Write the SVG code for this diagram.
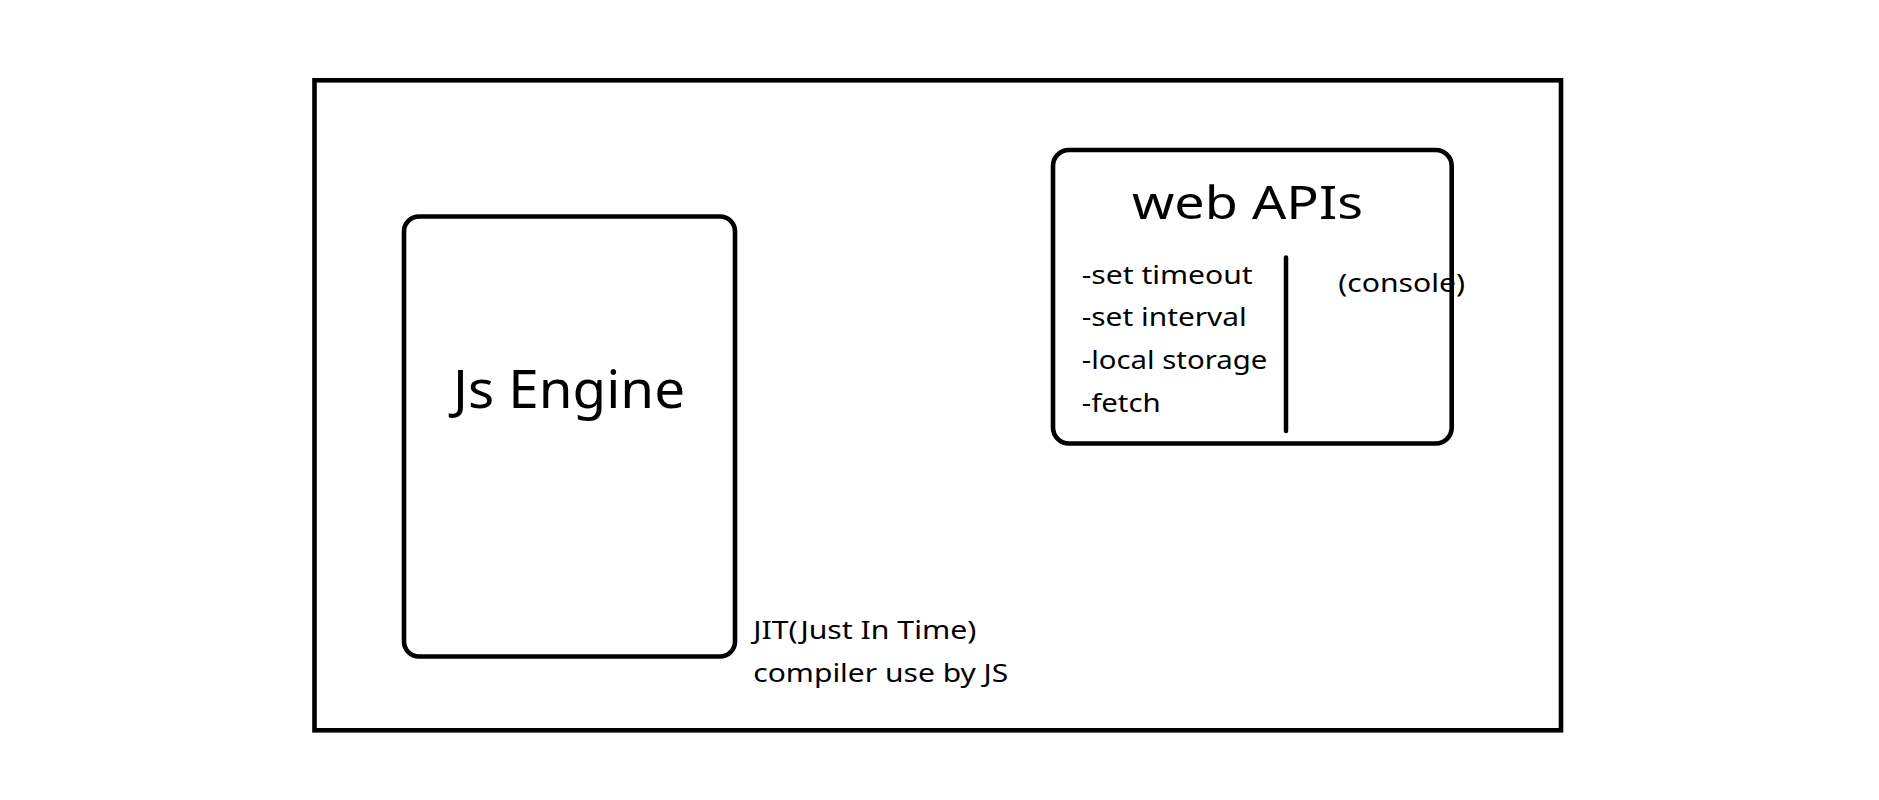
<svg xmlns="http://www.w3.org/2000/svg" width="1879" height="800" viewBox="0 0 1879 800">
<style>
.box{fill:none;stroke:#000;stroke-width:4.6}
.t{font-family:"Noto Sans","Open Sans","DejaVu Sans",sans-serif;fill:#000}
.s{font-size:26px}
</style>
<rect width="1879" height="800" fill="#fff"/>
<g id="outer"><rect class="box" x="314.5" y="80.3" width="1246.5" height="650"/></g>
<g id="js-engine">
<rect class="box" x="404" y="216.5" width="331" height="440" rx="15" ry="15"/>
<text class="t" x="453" y="408.3" font-size="53" textLength="232" lengthAdjust="spacingAndGlyphs">Js Engine</text>
</g>
<g id="web-apis">
<rect class="box" x="1053" y="150" width="398.7" height="293.5" rx="16" ry="16"/>
<text class="t" x="1132" y="219.3" font-size="46" textLength="231" lengthAdjust="spacingAndGlyphs">web APIs</text>
<line x1="1286" y1="257.5" x2="1286" y2="431" stroke="#000" stroke-width="4.5" stroke-linecap="round"/>
<text class="t s" x="1081.7" y="283.5" textLength="171" lengthAdjust="spacingAndGlyphs">-set timeout</text>
<text class="t s" x="1081.7" y="326.3" textLength="165" lengthAdjust="spacingAndGlyphs">-set interval</text>
<text class="t s" x="1081.7" y="369" textLength="185.6" lengthAdjust="spacingAndGlyphs">-local storage</text>
<text class="t s" x="1081.7" y="411.7" textLength="79" lengthAdjust="spacingAndGlyphs">-fetch</text>
<text class="t s" x="1338.3" y="292" textLength="126.7" lengthAdjust="spacingAndGlyphs">(console)</text>
</g>
<g id="jit-note">
<text class="t s" x="753.3" y="639.3" textLength="223" lengthAdjust="spacingAndGlyphs">JIT(Just In Time)</text>
<text class="t s" x="753.3" y="681.7" textLength="255" lengthAdjust="spacingAndGlyphs">compiler use by JS</text>
</g>
<g id="connectors"></g>
</svg>
